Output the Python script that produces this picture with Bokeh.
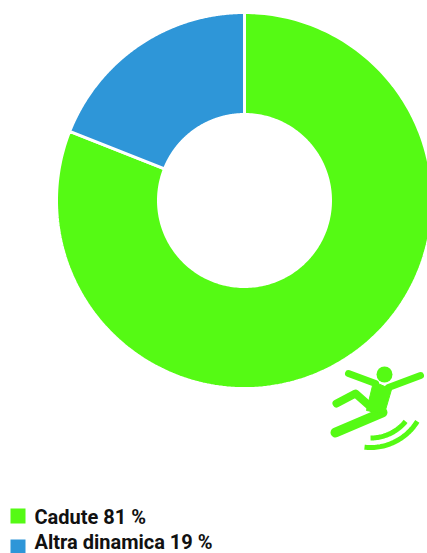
import numpy as np
from bokeh.plotting import figure
from bokeh.embed import file_html
from bokeh.resources import INLINE
from bokeh.core.properties import value

# Share of incidents by category
categories = ["Cadute", "Altra dinamica"]
shares = [81, 19]
colors = ["#55FA14", "#2E96D8"]

WIDTH, HEIGHT = 427, 553
CX, CY = 244, 200
OUTER, INNER = 188, 86

p = figure(width=WIDTH, height=HEIGHT, x_range=(0, WIDTH), y_range=(HEIGHT, 0),
           output_backend="svg", toolbar_location=None, min_border=0,
           outline_line_color=None, background_fill_color="white")
p.axis.visible = False
p.grid.visible = False

# Ring, running clockwise from twelve o'clock
fractions = np.cumsum([0] + shares) / sum(shares)
for i, name in enumerate(categories):
    a0 = -np.pi / 2 + 2 * np.pi * fractions[i]
    a1 = -np.pi / 2 + 2 * np.pi * fractions[i + 1]
    t = np.linspace(a0, a1, 240)
    xs = np.concatenate([CX + OUTER * np.cos(t), CX + INNER * np.cos(t[::-1])])
    ys = np.concatenate([CY + OUTER * np.sin(t), CY + INNER * np.sin(t[::-1])])
    p.patch(xs, ys, fill_color=colors[i], line_color="white", line_width=3)

# Legend rows
for i, name in enumerate(categories):
    top = 508 + 31 * i
    p.quad(left=10, right=25, top=top, bottom=top + 15, fill_color=colors[i], line_color=None)
    p.text(x=[34], y=[528 + 25 * i], text=[f"{name} {shares[i]} %"],
           text_font=value("Roboto"), text_font_style="bold",
           text_font_size="20px", text_color="#111111",
           text_baseline="bottom", text_align="left")

# Falling figure
ICON = colors[0]
p.line([348, 375], [373, 383], line_color=ICON, line_width=7, line_cap="round")
p.line([388, 420], [387, 375], line_color=ICON, line_width=7, line_cap="round")
p.line([336, 355, 372], [403, 393, 408], line_color=ICON, line_width=8,
       line_cap="round", line_join="round")
p.line([335, 382], [432, 412], line_color=ICON, line_width=10, line_cap="round")
p.patch([373, 391, 384, 366], [381, 389, 413, 410], fill_color=ICON, line_color=ICON, line_width=1)
p.scatter([384], [374], size=16, marker="circle", fill_color=ICON, line_color=None)
for r, start, stop in [(45.5, 1.57, 0.69), (55, 1.68, 0.553)]:
    t = np.linspace(start, stop, 40)
    p.line(370 + r * np.cos(t), 392 + r * np.sin(t), line_color=ICON, line_width=5)

open("out.html", "w").write(file_html(p, INLINE))
